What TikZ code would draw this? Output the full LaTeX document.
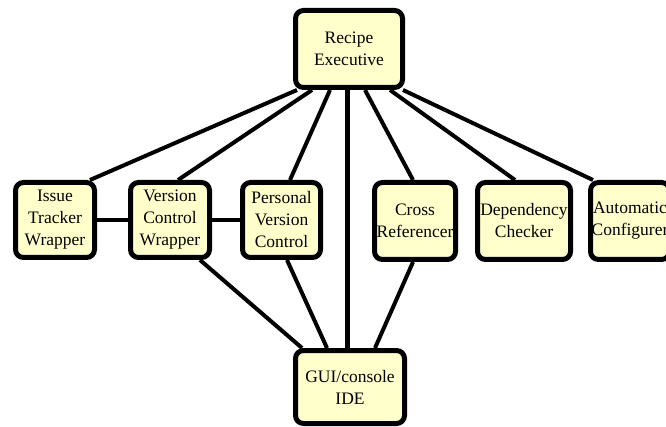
\documentclass[tikz,border=0pt]{standalone}
\usepackage{fontspec}
\setmainfont{Liberation Serif}
\usetikzlibrary{backgrounds}
\definecolor{boxfill}{HTML}{FFFFCC}
\tikzset{
  module/.style={draw, line width=5pt, rounded corners=8pt, fill=boxfill,
    align=center, inner sep=0pt, font=\fontsize{17.5}{22}\selectfont},
  link/.style={line width=4pt}
}

\begin{document}
\begin{tikzpicture}[x=1pt,y=-1pt]
        \path[use as bounding box, clip] (0,0) rectangle (666,427);

        \path
        (349,49) node[module, minimum width=107pt, minimum height=77pt](rec) {Recipe\\Executive}
        (55,220) node[module, minimum width=79pt, minimum height=75pt](iss) {Issue\\Tracker\\Wrapper}
        (170,220) node[module, minimum width=79pt, minimum height=75pt](ver) {Version\\Control\\Wrapper}
        (281.5,220) node[module, minimum width=78pt, minimum height=75pt](per) {Personal\\Version\\Control}
        (415,221) node[module, minimum width=81pt, minimum height=77pt](crs) {Cross\\Referencer}
        (524,221) node[module, minimum width=93pt, minimum height=77pt](dep) {Dependency\\Checker}
        (630,221) node[module, minimum width=79pt, minimum height=77pt](aut) {Automatic\\Configurer}
        (350,387) node[module, minimum width=109pt, minimum height=73pt](gui) {GUI/console\\IDE}
        ;

        \begin{scope}[on background layer]
        \draw[link] ([xshift=-52pt]rec.south) -- ([xshift=35pt]iss.north);
        \draw[link] ([xshift=-37pt]rec.south) -- ([xshift=8pt]ver.north);
        \draw[link] ([xshift=-19pt]rec.south) -- ([xshift=8.5pt]per.north);
        \draw[link, line width=5pt] ([xshift=-2pt]rec.south) -- ([xshift=-3pt]gui.north);
        \draw[link] ([xshift=16pt]rec.south) -- ([xshift=-2pt]crs.north);
        \draw[link] ([xshift=41pt]rec.south) -- ([xshift=-9pt]dep.north);
        \draw[link] ([xshift=54pt]rec.south) -- ([xshift=-37pt]aut.north);

        \draw[link] (iss.east) -- (ver.west);
        \draw[link] (ver.east) -- (per.west);

        \draw[link] ([xshift=30pt]ver.south) -- ([xshift=-48pt]gui.north);
        \draw[link] ([xshift=5.5pt]per.south) -- ([xshift=-23pt]gui.north);
        \draw[link] ([xshift=-2pt]crs.south) -- ([xshift=25pt]gui.north);
        \end{scope}
\end{tikzpicture}
\end{document}
